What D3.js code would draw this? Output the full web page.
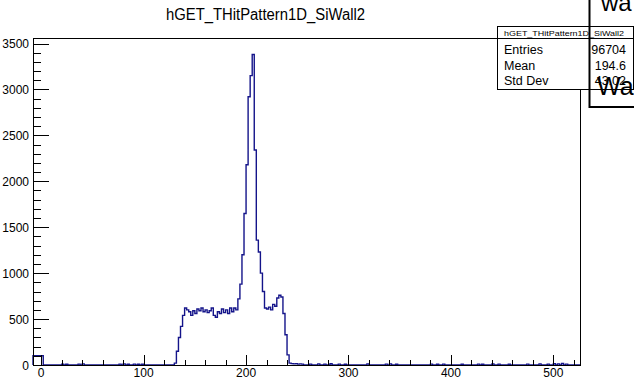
<!DOCTYPE html>
<html><head><meta charset="utf-8">
<script src="https://cdn.jsdelivr.net/npm/d3@7"></script>
<style>body{margin:0;background:#fff;} svg{display:block;font-family:"Liberation Sans",Arial,Helvetica,sans-serif;}</style>
</head><body><svg id="c" width="634" height="379"></svg>
<script>
// ---- data ----
const chartTitle = "hGET_THitPattern1D_SiWall2";
const binWidth = 2;
const xDomain = [-8, 526];
const yDomain = [0, 3560];
const xMajorTicks = [0, 100, 200, 300, 400, 500];
const yMajorTicks = [0, 500, 1000, 1500, 2000, 2500, 3000, 3500];
// low-edge bins
const edgeBinX = [-8, -6, -4, -2, 0];
const edgeBinCounts = [100, 100, 100, 100, 100];
// main structure, bins starting at peakStartX
const peakStartX = 128;
const peakCounts = [0, 20, 150, 300, 420, 540, 620, 600, 580, 540, 590, 560, 610, 590, 620, 580,
  600, 570, 590, 620, 540, 520, 580, 560, 610, 570, 600, 560, 620, 580, 620, 600,
  720, 880, 1200, 1650, 2180, 2920, 3150, 3380, 2340, 1360, 1230, 1000, 800,
  620, 610, 630, 600, 660, 640, 730, 760, 740, 560, 330, 110, 20, 15, 12, 15, 10, 12, 10];
// sparse noise bins
const noiseX = [20, 24, 36, 40, 76, 80, 84, 90, 94, 98, 262, 270, 276, 282, 290, 296, 318, 336, 340, 346,
  380, 386, 392, 410, 426, 430, 440, 446, 456, 474, 486, 494, 500, 504, 508, 512];
const noiseCounts = [10, 8, 10, 12, 10, 12, 8, 10, 8, 8, 10, 12, 10, 14, 10, 8, 12, 10, 12, 8,
  10, 8, 10, 8, 10, 8, 12, 10, 8, 10, 12, 10, 14, 12, 16, 10];
const statsLabels = ["Entries", "Mean", "Std Dev"];
const statsValues = ["96704", "194.6", "43.02"];

// ---- build bins ----
const nBins = Math.round((xDomain[1] - xDomain[0]) / binWidth);
const counts = new Array(nBins).fill(0);
const idx = x => Math.round((x - xDomain[0]) / binWidth);
edgeBinX.forEach((x, i) => counts[idx(x)] = edgeBinCounts[i]);
peakCounts.forEach((c, i) => counts[idx(peakStartX + i * binWidth)] = c);
noiseX.forEach((x, i) => counts[idx(x)] = noiseCounts[i]);

// ---- layout ----
const svg = d3.select("#c");
const L = 33, R = 580, T = 38, B = 365;
const x = d3.scaleLinear().domain(xDomain).range([L, R]);
const y = d3.scaleLinear().domain(yDomain).range([B, T]);

// histogram step path
const pts = [[x(xDomain[0]), y(0)]];
counts.forEach((c, i) => {
  const lo = xDomain[0] + i * binWidth, hi = lo + binWidth;
  pts.push([x(lo), y(c)]); pts.push([x(hi), y(c)]);
});
pts.push([x(xDomain[1]), y(0)]);
svg.append("path").attr("d", d3.line()(pts)).attr("fill", "none")
  .attr("stroke", "#14148a").attr("stroke-width", 1.4).attr("stroke-linejoin", "miter");

// frame
svg.append("rect").attr("x", L + 0.5).attr("y", T + 0.5).attr("width", R - L).attr("height", B - T)
  .attr("fill", "none").attr("stroke", "#000").attr("stroke-width", 1);

// y ticks
d3.range(0, 3501, 100).forEach(v => {
  const major = v % 500 === 0;
  svg.append("line").attr("x1", L).attr("x2", L + (major ? 16 : 8))
    .attr("y1", Math.round(y(v)) + 0.5).attr("y2", Math.round(y(v)) + 0.5)
    .attr("stroke", "#000").attr("stroke-width", 1);
});
yMajorTicks.forEach(v => {
  svg.append("text").attr("x", 29).attr("y", y(v) + 4.5).attr("text-anchor", "end")
    .attr("font-size", 12).text(v);
});
// x ticks
d3.range(0, 521, 20).forEach(v => {
  const major = v % 100 === 0;
  svg.append("line").attr("x1", Math.round(x(v)) + 0.5).attr("x2", Math.round(x(v)) + 0.5)
    .attr("y1", B).attr("y2", B - (major ? 10 : 5)).attr("stroke", "#000").attr("stroke-width", 1);
});
xMajorTicks.forEach(v => {
  svg.append("text").attr("x", x(v)).attr("y", 377).attr("text-anchor", "middle")
    .attr("font-size", 12).text(v);
});

// title
svg.append("text").attr("x", 265.5).attr("y", 20).attr("text-anchor", "middle")
  .attr("font-size", 16).attr("textLength", 199).attr("lengthAdjust", "spacingAndGlyphs").text(chartTitle);

// stats box
const sx = 497, sy = 26, sw = 136, sh = 63;
svg.append("rect").attr("x", sx + 0.5).attr("y", sy + 0.5).attr("width", sw).attr("height", sh)
  .attr("fill", "#fff").attr("stroke", "#000").attr("stroke-width", 1);
svg.append("line").attr("x1", sx).attr("x2", sx + sw).attr("y1", 38.5).attr("y2", 38.5)
  .attr("stroke", "#000").attr("stroke-width", 1);
svg.append("text").attr("x", sx + sw / 2 - 1).attr("y", 35.5).attr("text-anchor", "middle")
  .attr("font-size", 7).attr("textLength", 120).attr("lengthAdjust", "spacingAndGlyphs").text(chartTitle);
statsLabels.forEach((s, i) => {
  svg.append("text").attr("x", 504).attr("y", 54 + i * 15.7).attr("font-size", 12.5).text(s);
  svg.append("text").attr("x", 626).attr("y", 54 + i * 15.7).attr("text-anchor", "end")
    .attr("font-size", 12.5).text(statsValues[i]);
});

// overlapping artefact box on the right
svg.append("path").attr("d", "M589.5,0 V107 H634").attr("fill", "none")
  .attr("stroke", "#000").attr("stroke-width", 2);
svg.append("text").attr("x", 601).attr("y", 11).attr("font-size", 24).text("wa");
svg.append("text").attr("x", 597).attr("y", 95).attr("font-size", 25).text("Wa");
</script></body></html>
